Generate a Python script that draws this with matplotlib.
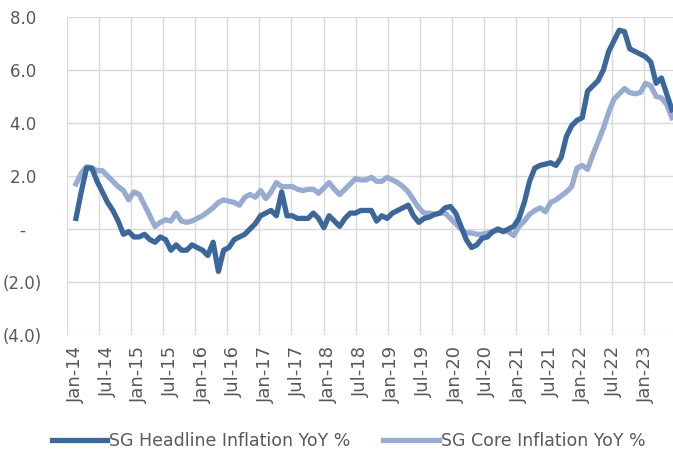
import numpy as np
import pandas as pd
import matplotlib
matplotlib.use("Agg")
import matplotlib.pyplot as plt

# Singapore CPI, YoY %, monthly from Jan-14
headline = [0.4, 1.4, 2.3, 2.3, 1.8, 1.4, 1.0, 0.7, 0.3, -0.2, -0.1, -0.3,
            -0.3, -0.2, -0.4, -0.5, -0.3, -0.4, -0.8, -0.6, -0.8, -0.8, -0.6, -0.7,
            -0.8, -1.0, -0.5, -1.6, -0.8, -0.7, -0.4, -0.3, -0.2, 0.0, 0.2, 0.5,
            0.6, 0.7, 0.5, 1.4, 0.5, 0.5, 0.4, 0.4, 0.4, 0.6, 0.4, 0.05,
            0.5, 0.3, 0.1, 0.4, 0.6, 0.6, 0.7, 0.7, 0.7, 0.3, 0.5, 0.4,
            0.6, 0.7, 0.8, 0.9, 0.5, 0.25, 0.4, 0.45, 0.55, 0.6, 0.8, 0.85,
            0.6, 0.1, -0.4, -0.7, -0.6, -0.35, -0.3, -0.1, 0.0, -0.1, 0.0, 0.1,
            0.4, 1.0, 1.8, 2.3, 2.4, 2.45, 2.5, 2.4, 2.7, 3.5, 3.9, 4.1,
            4.2, 5.2, 5.4, 5.6, 6.0, 6.7, 7.1, 7.5, 7.45, 6.8, 6.7, 6.6,
            6.5, 6.3, 5.5, 5.7, 5.1, 4.5]
core = [1.7, 2.1, 2.35, 2.3, 2.2, 2.2, 2.0, 1.8, 1.6, 1.45, 1.1, 1.4,
        1.3, 0.9, 0.5, 0.1, 0.25, 0.35, 0.3, 0.6, 0.3, 0.25, 0.3, 0.4,
        0.5, 0.65, 0.8, 1.0, 1.1, 1.05, 1.0, 0.9, 1.2, 1.3, 1.2, 1.45,
        1.15, 1.4, 1.75, 1.6, 1.6, 1.6, 1.5, 1.45, 1.5, 1.5, 1.35, 1.55,
        1.75, 1.5, 1.3, 1.5, 1.7, 1.9, 1.85, 1.85, 1.95, 1.8, 1.8, 1.95,
        1.85, 1.75, 1.6, 1.4, 1.1, 0.8, 0.6, 0.6, 0.55, 0.6, 0.6, 0.4,
        0.2, 0.0, -0.15, -0.15, -0.2, -0.2, -0.15, -0.1, -0.05, -0.05, -0.1, -0.25,
        0.1, 0.3, 0.55, 0.7, 0.8, 0.65, 1.0, 1.1, 1.25, 1.4, 1.6, 2.3,
        2.4, 2.25, 2.8, 3.3, 3.8, 4.4, 4.9, 5.1, 5.3, 5.15, 5.1, 5.15,
        5.5, 5.4, 5.0, 4.95, 4.7, 4.2]
months = pd.date_range("2014-01-01", periods=len(headline), freq="MS")
y_ticks = [8, 6, 4, 2, 0, -2, -4]
y_labels = ["8.0 ", "6.0 ", "4.0 ", "2.0 ", "-   ", "(2.0)", "(4.0)"]
series_names = ["SG Headline Inflation YoY %", "SG Core Inflation YoY %"]

text_col = "#595959"
grid_col = "#d9d9d9"

fig = plt.figure(figsize=(6.73, 4.54), dpi=100)
ax = fig.add_axes([67 / 673, 1 - 335 / 454, 606 / 673, 318 / 454])

x = np.arange(len(months))
ax.plot(x, headline, color="#3c679a", lw=3.8, solid_joinstyle="round",
        label=series_names[0], zorder=3)
ax.plot(x, core, color="#98abd0", lw=3.8, solid_joinstyle="round",
        label=series_names[1], zorder=2)

ax.set_xlim(-1.7, 113.2)
ax.set_ylim(-4, 8)

# labels every six months, category gridlines sit just before them
lab_idx = x[::6]
ax.set_xticks(lab_idx)
ax.set_xticklabels([months[i].strftime("%b-%y") for i in lab_idx],
                   rotation=90, fontsize=13, color=text_col)
ax.set_xticks(-1.7 + 6.08 * np.arange(19), minor=True)
ax.grid(True, which="minor", axis="x", color=grid_col, lw=1)
ax.tick_params(axis="x", which="both", length=0, pad=8)

ax.set_yticks(y_ticks)
ax.set_yticklabels(y_labels, fontsize=12, color=text_col)
ax.grid(True, which="major", axis="y", color=grid_col, lw=1)
ax.tick_params(axis="y", length=0, pad=18)

for s in ax.spines.values():
    s.set_visible(False)
ax.set_axisbelow(True)

fig.legend(loc="center", bbox_to_anchor=(0.518, 1 - 441 / 454), ncol=2,
           frameon=False, fontsize=12.5, handlelength=3.2, handletextpad=0.1,
           columnspacing=1.9, labelcolor=text_col)

fig.savefig("out.png", dpi=100)
